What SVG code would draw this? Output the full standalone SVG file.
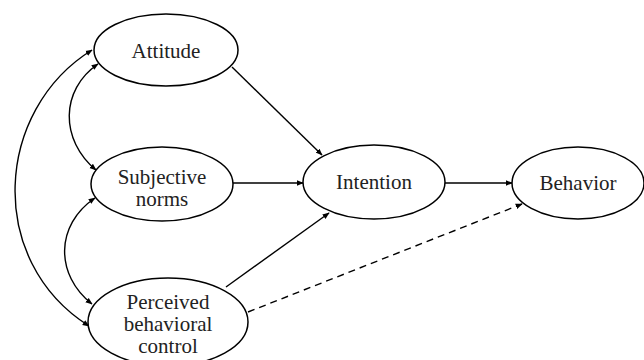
<svg xmlns="http://www.w3.org/2000/svg" width="644" height="360" viewBox="0 0 644 360">
<defs>
<marker id="ah" viewBox="0 0 10 10" refX="9" refY="5" markerWidth="7" markerHeight="7" markerUnits="userSpaceOnUse" orient="auto-start-reverse">
<path d="M0,1 L10,5 L0,9 z" fill="#000"/>
</marker>
<style>
.n ellipse{fill:#fff;stroke:#000;stroke-width:1.5}
.n text{font-size:21px;fill:#222;text-anchor:middle}
#edges path{fill:none;stroke:#000;stroke-width:1.4}
</style>
</defs>
<rect width="644" height="360" fill="#fff"/>
<g id="edges">
<path d="M232,67 L322,155" marker-end="url(#ah)"/>
<path d="M233,183 L303,183" marker-end="url(#ah)"/>
<path d="M226,287 L329,213" marker-end="url(#ah)"/>
<path d="M445,183 L512,183" marker-end="url(#ah)"/>
<path d="M248,312 L522,204" stroke-dasharray="7,5" marker-end="url(#ah)"/>
<path d="M98,64 C60,90 60,140 96,170" marker-start="url(#ah)" marker-end="url(#ah)"/>
<path d="M95,198 C55,225 55,275 92,304" marker-start="url(#ah)" marker-end="url(#ah)"/>
<path d="M92,50 C-5,110 -15,260 89,326" marker-start="url(#ah)" marker-end="url(#ah)"/>
</g>
<g font-family="'Liberation Serif', 'Times New Roman', serif">
<g id="attitude" class="n"><ellipse cx="166" cy="50" rx="72" ry="36"/><text x="166" y="58">Attitude</text></g>
<g id="subjective" class="n"><ellipse cx="162" cy="184" rx="71" ry="37"/><text x="162" y="184">Subjective</text><text x="162" y="206">norms</text></g>
<g id="perceived" class="n"><ellipse cx="168" cy="322" rx="80" ry="44"/><text x="168" y="309">Perceived</text><text x="168" y="331">behavioral</text><text x="168" y="353">control</text></g>
<g id="intention" class="n"><ellipse cx="374" cy="182" rx="71" ry="37"/><text x="374" y="189">Intention</text></g>
<g id="behavior" class="n"><ellipse cx="578" cy="183" rx="66" ry="36"/><text x="578" y="190">Behavior</text></g>
</g>
</svg>
